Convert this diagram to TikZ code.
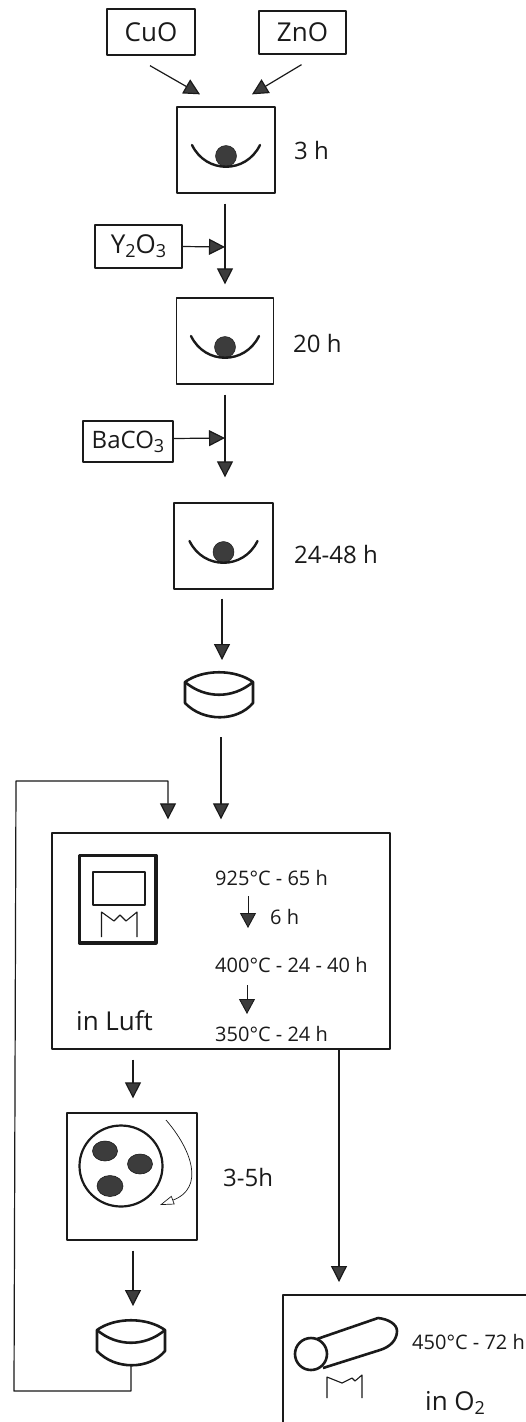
\documentclass[tikz,border=0pt]{standalone}
\usepackage{fontspec}
\setmainfont{Open Sans}
\usetikzlibrary{arrows.meta,calc}
\definecolor{ink}{HTML}{1A1A1A}
\definecolor{tipfill}{HTML}{3C3C3C}
\newcommand{\lowsub}[1]{\raisebox{-4pt}{\fontsize{18}{20}\selectfont #1}}
\tikzset{
  x=1pt,y=-1pt,
  every path/.style={line join=round},
  box/.style={draw=ink,line width=1.3pt,inner sep=0pt,minimum width=#1,font=\fontsize{26}{28}\selectfont,text=ink},
  box/.default=88pt,
  arr/.style={draw=ink,line width=1.2pt,-{Triangle[length=16pt,width=16pt,fill=tipfill]}},
  sarr/.style={draw=ink,line width=0.9pt,-{Triangle[length=15pt,width=16pt,fill=tipfill]}},
  big/.style={font=\fontsize{24}{26}\selectfont,text=ink,inner sep=0pt,anchor=west},
  small/.style={font=\fontsize{20}{22}\selectfont,text=ink,inner sep=0pt,anchor=west},
  thick line/.style={draw=ink,line width=2.6pt},
  ball/.style={fill=tipfill,draw=ink,line width=0.6pt}
}
\newcommand{\bowlicon}[1]{%
  \fill[tipfill,draw=ink,line width=.5pt] ($(#1)+(0,6)$) circle (10.5pt);
  \draw[thick line,line cap=round,line width=2.4pt] ($(#1)+(-34,-5)$) .. controls ($(#1)+(-20,24)$) and ($(#1)+(20,24)$) .. ($(#1)+(34,-5)$);
}
\newcommand{\pelleticon}[1]{%
  \draw[thick line] ($(#1)+(-34,-13)$) .. controls ($(#1)+(-16,-26)$) and ($(#1)+(16,-26)$) .. ($(#1)+(34,-13)$)
     -- ($(#1)+(34,8)$) .. controls ($(#1)+(18,27)$) and ($(#1)+(-16,27)$) .. ($(#1)+(-34,8)$) -- cycle;
  \draw[thick line] ($(#1)+(-34,-13)$) .. controls ($(#1)+(-14,4)$) and ($(#1)+(14,4)$) .. ($(#1)+(34,-13)$);
}
\begin{document}
\begin{tikzpicture}
\useasboundingbox (0,0) rectangle (525,1422);
\fill[white] (0,0) rectangle (525,1422);

% ingredient boxes
\node[box=88pt,minimum height=46pt] (cuo) at (151,32) {CuO\hspace{13pt}};
\node[box=87pt,minimum height=43pt] (zno) at (302.5,32.5) {ZnO\hspace{15pt}};
\node[box=87pt,minimum height=43pt] (yo) at (138.5,246.5) {Y\lowsub{2}O\lowsub{3}};
\node[box=90pt,minimum height=41pt,font=\fontsize{24}{26}\selectfont] (ba) at (128,441.5) {BaCO\lowsub{3}};

% mortar boxes
\node[box=98pt,minimum height=86pt] (m1) at (226,150) {};
\node[box=97pt,minimum height=86pt] (m2) at (225,341) {};
\node[box=99pt,minimum height=86pt] (m3) at (223.5,546) {};
\bowlicon{m1}
\bowlicon{m2}
\bowlicon{m3}
\node[big] (t1) at (294,150) {3 h};
\node[big] (t2) at (293,343) {20 h};
\node[big] (t3) at (294,554) {24-48 h};

% pellets
\coordinate (p1) at (219,695);
\coordinate (p2) at (131,1343);
\pelleticon{p1}
\pelleticon{p2}

% furnace box
\node[box=338pt,minimum height=216pt] (fb) at (221,941) {};
\draw[thick line,line width=3.2pt] (79.5,855.5) rectangle (156,943);
\draw[draw=ink,line width=1.2pt] (93,872) rectangle (145,905);
\draw[draw=ink,line width=1.1pt] (101.5,937) -- (101.5,912) -- (114,921) -- (120,915) -- (126,921) -- (137,912) -- (137,937);
\node[small] (a1) at (215,878) {925°C - 65 h};
\node[small] (a2) at (270,917) {6 h};
\node[small] (a3) at (215,965) {400°C - 24 - 40 h};
\node[small] (a4) at (215,1034) {350°C - 24 h};
\node[big,font=\fontsize{26}{28}\selectfont] (luft) at (76,1021) {in Luft};
\draw[sarr] ($(a1.west)+(33,18)$) -- ($(a3.west)+(33,-37)$);
\draw[sarr] ($(a3.west)+(32,20)$) -- ($(a4.west)+(32,-20)$);

% mill
\node[box=130pt,minimum height=127pt] (mill) at (132,1176.5) {};
\draw[thick line,line width=2.2pt] (121,1166) ellipse (41.5pt and 40.5pt);
\draw[ball] (105,1151) ellipse (12.5pt and 10pt);
\draw[ball] (140,1164) ellipse (12.5pt and 10pt);
\draw[ball] (110,1186) ellipse (13pt and 10.5pt);
\draw[draw=ink,line width=.7pt,-{Triangle[length=14pt,width=9pt,fill=white]}] (166,1120) .. controls (192,1150) and (205,1188) .. (160,1205);
\node[big] (t4) at (223,1177) {3-5h};

% oxygen box (runs off the page)
\draw[draw=ink,line width=1.3pt] (283,1430) -- (283,1295) -- (530,1295);
\coordinate (ob) at (339,1295);
\draw[thick line] (311,1354) circle (16pt);
\draw[thick line] (317,1339) -- (378,1318) .. controls (388,1319) and (397,1324) .. (397,1331) .. controls (397,1340) and (390,1347) .. (380,1350) -- (323,1368);
\draw[draw=ink,line width=1.1pt] (327,1398) -- (327,1377) -- (342,1383) -- (352,1378) -- (355,1381) -- (362,1375) -- (362,1398);
\node[small] (t5) at (412,1342) {450°C - 72 h};
\node[big,font=\fontsize{26}{28}\selectfont] (t6) at (425,1403) {in O\lowsub{2}};

% connectors
\draw[arr] ($(cuo.south)+(-1,10)$) -- ($(m1.north)+(-26,-12)$);
\draw[arr] ($(zno.south)+(-1,10)$) -- ($(m1.north)+(26,-12)$);
\draw[arr] ($(m1.south)+(-1,10)$) -- ($(m2.north)+(0,-13)$);
\draw[arr] ($(m2.south)+(0,10)$) -- ($(m3.north)+(1.5,-25)$);
\draw[arr] ($(m3.south)+(-1.5,9)$) -- ($(p1)+(3,-35)$);
\coordinate (j1) at (225,247);
\coordinate (j2) at (225,438);
\draw[arr] (yo.east) -- (j1);
\draw[arr] ($(ba.east)+(0,-3)$) -- (j2);
\draw[arr] ($(p1)+(2,42)$) -- ($(fb.north)+(0,-13)$);
\draw[arr] ($(p2)+(0,22)$) |- (14,1391) -- (16,781) -| ($(fb.north)+(-53,-13)$);
\draw[arr] ($(fb.south)+(-88,10)$) -- ($(mill.north)+(1,-14)$);
\draw[arr] ($(mill.south)+(1,10)$) -- ($(p2)+(2,-37)$);
\draw[arr] (fb.south -| ob) -- ($(ob)+(0,-13)$);
\end{tikzpicture}
\end{document}
